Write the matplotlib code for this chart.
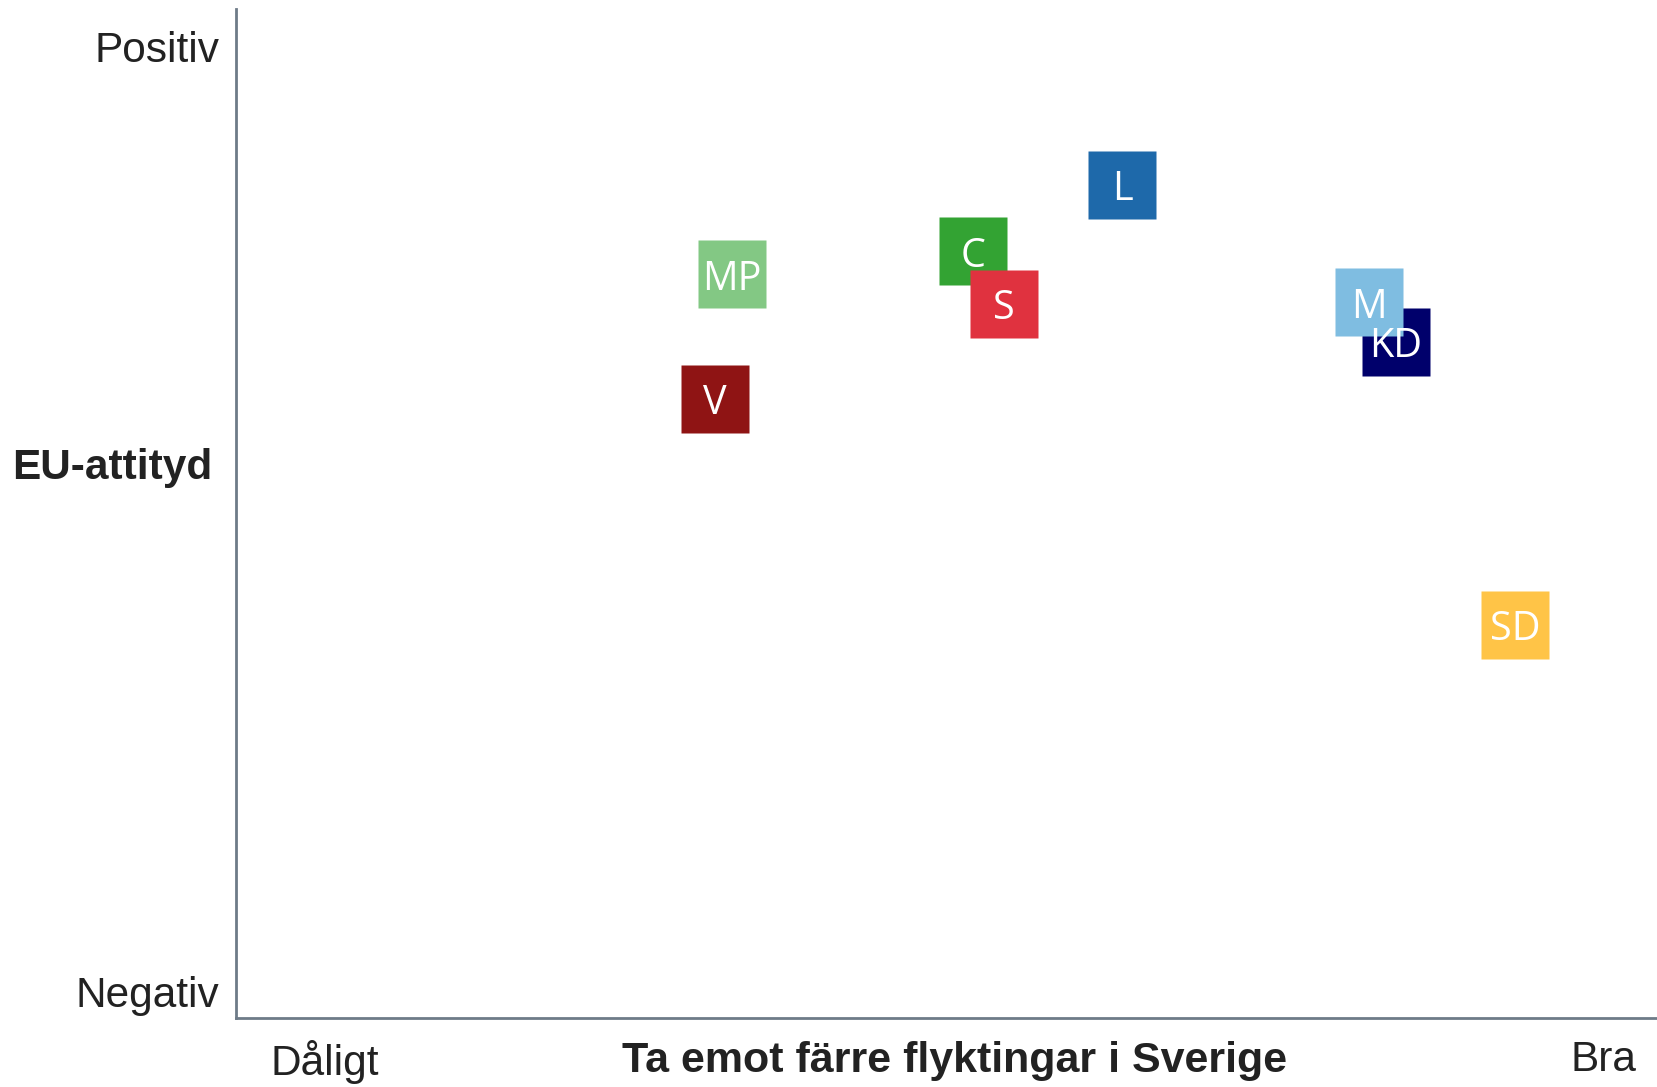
import matplotlib
matplotlib.use("Agg")
import matplotlib.pyplot as plt

# partier: placering på skalan -1 (Dåligt/Negativ) .. 1 (Bra/Positiv)
parties = ["MP", "V", "C", "S", "L", "KD", "M", "SD"]
x_vals = [-0.362, -0.389, 0.014, 0.063, 0.248, 0.676, 0.633, 0.862]
y_vals = [0.517, 0.253, 0.566, 0.454, 0.706, 0.374, 0.458, -0.224]
colors = ["#83C884", "#8F1414", "#33A333", "#E0323F", "#1E69AA",
          "#00006B", "#7FBDE1", "#FFC447"]

x_ticks = [-1, 1]
x_ticklabels = ["Dåligt", "Bra"]
y_ticks = [-1, 1]
y_ticklabels = ["Negativ", "Positiv"]

axis_font = ["Liberation Sans", "DejaVu Sans"]
text_color = "#222222"
spine_color = "#6E7B88"


def main():
    fig = plt.figure(figsize=(16.57, 10.87), dpi=100)
    ax = fig.add_axes([236 / 1657, 1 - 1018 / 1087, 1 - 236 / 1657, (1018 - 9) / 1087])

    for name, x, y, c in zip(parties, x_vals, y_vals, colors):
        ax.plot(x, y, marker="s", markersize=49, mfc=c, mec="none", ls="none")
        ax.text(x, y, name, color="white", fontsize=28.5, family=["Open Sans", "DejaVu Sans"],
                ha="center", va="center_baseline")

    ax.set_xlim(-1.138, 1.084)
    ax.set_ylim(-1.057, 1.079)

    ax.set_xticks(x_ticks)
    ax.set_xticklabels(x_ticklabels)
    ax.set_yticks(y_ticks)
    ax.set_yticklabels(y_ticklabels)
    ax.tick_params(length=0, labelsize=30.5, labelcolor=text_color)
    ax.tick_params(axis="x", pad=16)
    ax.tick_params(axis="y", pad=12)
    for lbl in ax.get_xticklabels() + ax.get_yticklabels():
        lbl.set_family(axis_font)

    for side in ["top", "right"]:
        ax.spines[side].set_visible(False)
    for side in ["left", "bottom"]:
        ax.spines[side].set_color(spine_color)
        ax.spines[side].set_linewidth(2)

    ax.annotate("Ta emot färre flyktingar i Sverige", xy=(0.5, 0), xycoords="axes fraction",
                xytext=(6, -31), textcoords="offset points", ha="center", va="center",
                fontsize=31, fontweight="bold", color=text_color, family=axis_font)
    ax.annotate("EU-attityd", xy=(0, 0.107), xycoords=("axes fraction", "data"),
                xytext=(-17, 0), textcoords="offset points", ha="right", va="center",
                fontsize=30.5, fontweight="bold", color=text_color, family=axis_font)

    fig.savefig("out.png", dpi=100)


if __name__ == "__main__":
    main()
